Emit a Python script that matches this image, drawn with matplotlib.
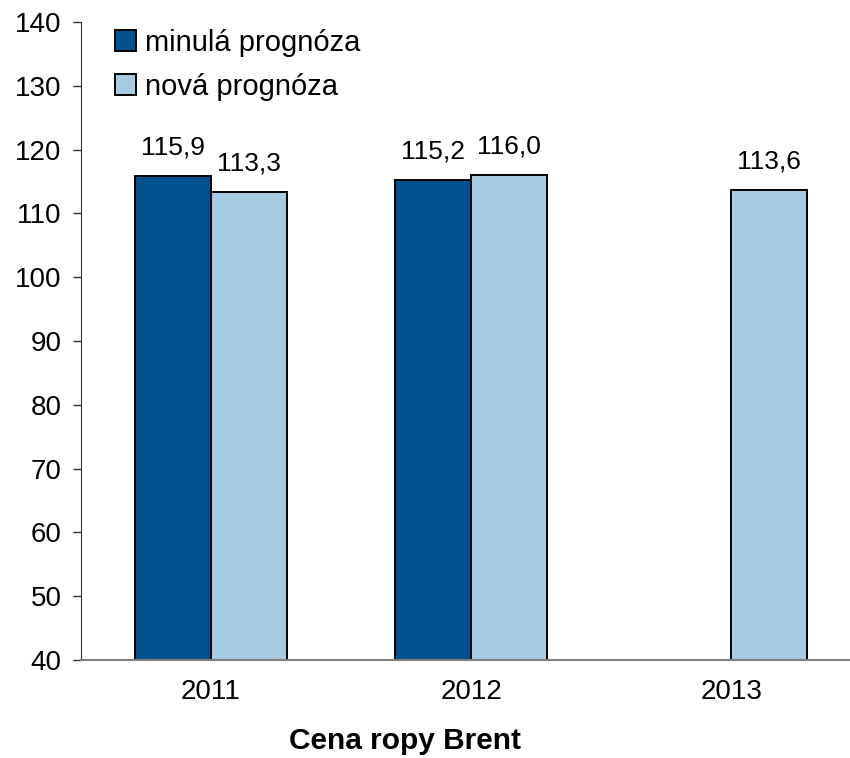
import numpy as np
import matplotlib
matplotlib.use("Agg")
import matplotlib.pyplot as plt

plt.rcParams.update({
    "font.family": ["Liberation Sans", "DejaVu Sans"],
    "font.size": 20,
})

years = ["2011", "2012", "2013"]
old_forecast = [115.9, 115.2, np.nan]
new_forecast = [113.3, 116.0, 113.6]
series_names = ["minulá prognóza", "nová prognóza"]

DARK = "#03508E"
LIGHT = "#A6CBE3"

fig = plt.figure(figsize=(8.5, 7.58), dpi=100)
ax = fig.add_axes([0.0953, 0.1293, 0.918, 0.8417])

x = np.arange(len(years))
w = 0.292
bars_old = ax.bar(x - w / 2, old_forecast, w, bottom=0, color=DARK,
                  edgecolor="black", linewidth=1.4, label=series_names[0])
bars_new = ax.bar(x + w / 2, new_forecast, w, bottom=0, color=LIGHT,
                  edgecolor="black", linewidth=1.4, label=series_names[1])

for bars, vals in ((bars_old, old_forecast), (bars_new, new_forecast)):
    for b, v in zip(bars, vals):
        if np.isnan(v):
            continue
        ax.annotate(f"{v:.1f}".replace(".", ","),
                    (b.get_x() + b.get_width() / 2, v),
                    xytext=(0, 12), textcoords="offset points",
                    ha="center", va="bottom", fontsize=19)

ax.set_xlim(-0.5, 2.5)
ax.set_ylim(40, 140)
ax.set_yticks(range(40, 141, 10))
ax.set_xticks(x)
ax.set_xticklabels(years)
ax.tick_params(axis="x", length=0, pad=14)
ax.tick_params(axis="y", length=6, width=1, color="#333333", pad=8)
for s in ("top", "right"):
    ax.spines[s].set_visible(False)
ax.spines["left"].set_color("#333333")
ax.spines["bottom"].set_color("#808080")
ax.spines["bottom"].set_linewidth(1.5)

ax.legend(loc="upper left", bbox_to_anchor=(0.025, 1.012), frameon=False,
          handlelength=0.72, handleheight=0.72, handletextpad=0.3,
          labelspacing=0.55, borderaxespad=0.1, fontsize=21)

fig.text(0.476, 0.004, "Cena ropy Brent", ha="center", va="bottom",
         fontsize=21.5, fontweight="bold")

fig.savefig("out.png", dpi=100, facecolor="white")
